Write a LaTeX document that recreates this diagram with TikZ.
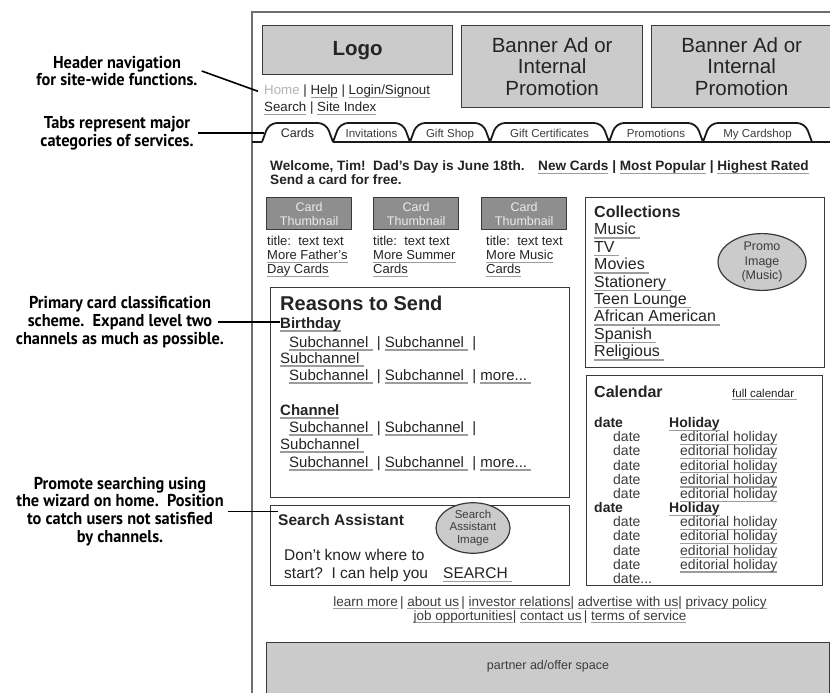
\documentclass[tikz,border=0pt]{standalone}
\usepackage{fontspec}
\setmainfont{Liberation Sans}
\newfontfamily\notefont[FakeStretch=0.95]{PT Sans}
\usetikzlibrary{shapes.geometric}

\definecolor{ink}{HTML}{242424}
\definecolor{soft}{HTML}{3C3C3C}
\definecolor{boxc}{HTML}{3A3A3A}
\definecolor{framec}{HTML}{6E6E6E}
\definecolor{fillg}{HTML}{CBCBCB}
\definecolor{thumbg}{HTML}{8E8E8E}
\definecolor{thumbt}{HTML}{EBEBEB}
\definecolor{ulc}{HTML}{9C9C9C}
\definecolor{homec}{HTML}{B4B4B4}

% gray link underline
\newsavebox\lkbox
\newcommand\lk[1]{\sbox\lkbox{#1}\rlap{\color{ulc}\rule[-0.24em]{\wd\lkbox}{0.085em}}\usebox\lkbox}
\newcommand\fsz[2]{\fontsize{#1}{#2}\selectfont}

\begin{document}
\begin{tikzpicture}[x=1pt,y=-1pt,
  txt/.style={inner sep=0pt, text=ink, anchor=base west},
  note/.style={font=\notefont\bfseries\fsz{17.2}{17.8}, align=center, inner sep=4pt, text=black},
  noteline/.style={draw=black, line width=1.6pt},
  panel/.style={draw=boxc, line width=1.3pt, anchor=north west, inner sep=0pt},
  greypanel/.style={panel, fill=fillg},
  thumb/.style={panel, fill=thumbg, minimum width=85pt, minimum height=32pt,
    text=thumbt, align=center, font=\fsz{12.5}{14}},
  tabedge/.style={draw=black!90, line width=1.8pt, rounded corners=8pt},
  tablabel/.style={inner sep=0pt, anchor=base},
  blob/.style={ellipse, draw=boxc, line width=1.2pt, fill=fillg, inner sep=0pt,
    align=center, text=soft},
]
\useasboundingbox (0,0) rectangle (830,693);
\fill[white] (0,0) rectangle (830,693);

% page frame
\draw[framec, line width=1.1pt] (252,700) -- (252,12) -- (840,12);

% ---- header ----
\node[greypanel, minimum width=190pt, minimum height=49pt,
  font=\bfseries\fsz{20.5}{22}, text=ink] (logo) at (262,25) {Logo};
\node[greypanel, minimum width=181pt, minimum height=82pt,
  font=\fsz{20.5}{21.5}, align=center, text=ink] (banner1) at (461,25)
  {Banner Ad or\\Internal\\Promotion};
\node[greypanel, minimum width=180pt, minimum height=82pt,
  font=\fsz{20.5}{21.5}, align=center, text=ink] (banner2) at (651,25)
  {Banner Ad or\\Internal\\Promotion};

\node[txt, font=\fsz{13.3}{14}] (nav1) at (264,94.5)
  {\textcolor{homec}{Home} | \lk{Help} | \lk{Login/Signout}};
\node[txt, font=\fsz{13.3}{14}] (nav2) at (264,111.5)
  {\lk{Search} | \lk{Site Index}};

% ---- tabs ----
\draw[tabedge] (262,142) -- (269,123) -- (326,123) -- (333,142);
\node[tablabel, font=\fsz{12.5}{13}, text=ink] (tab1) at (297.5,137.5) {Cards};
\foreach \a/\b/\t [count=\i from 2] in {333/410/Invitations, 410/490/Gift Shop,
    490/609/Gift Certificates, 609/703/Promotions, 703/812/My Cardshop}{
  \draw[tabedge] (\a,142) -- (\a+7,123) -- (\b-7,123) -- (\b,142);
  \node[tablabel, font=\fsz{11.5}{12}, text=soft] (tab\i) at ({(\a+\b)/2},137) {\t};
}
\draw[tabedge] (252,142) -- (262,142);
\draw[tabedge] (333,142) -- (840,142);

% ---- welcome line ----
\node[txt, font=\bfseries\fsz{13.6}{14}] (welcome) at (270,170)
  {Welcome, Tim!\ \ Dad's Day is June 18th.};
\node[txt, font=\bfseries\fsz{13.6}{14}] (welcome2) at (270,184)
  {Send a card for free.};
\node[txt, font=\bfseries\fsz{13.6}{14}] (quick) at (538,170.5)
  {\lk{New Cards} | \lk{Most Popular} | \lk{Highest Rated}};

% ---- thumbnails ----
\node[thumb] (thumb1) at (266,197) {Card\\Thumbnail};
\node[thumb] (thumb2) at (373,197) {Card\\Thumbnail};
\node[thumb] (thumb3) at (481,197) {Card\\Thumbnail};

\node[txt, font=\fsz{13}{13}] (cap1a) at (267,245.5) {title:\ \ text text};
\node[txt, font=\fsz{13}{13}] (cap1b) at (267,259.5) {\lk{More Father's}};
\node[txt, font=\fsz{13}{13}] (cap1c) at (267,273.5) {\lk{Day Cards}};
\node[txt, font=\fsz{13}{13}] (cap2a) at (373,245.5) {title:\ \ text text};
\node[txt, font=\fsz{13}{13}] (cap2b) at (373,259.5) {\lk{More Summer}};
\node[txt, font=\fsz{13}{13}] (cap2c) at (373,273.5) {\lk{Cards}};
\node[txt, font=\fsz{13}{13}] (cap3a) at (486,245.5) {title:\ \ text text};
\node[txt, font=\fsz{13}{13}] (cap3b) at (486,259.5) {\lk{More Music}};
\node[txt, font=\fsz{13}{13}] (cap3c) at (486,273.5) {\lk{Cards}};

% ---- reasons to send ----
\node[panel, minimum width=299pt, minimum height=210pt] (reasons) at (270,287) {};
\node[txt, font=\bfseries\fsz{20}{20}] (rtitle) at (280,310) {Reasons to Send};
\node[txt, font=\bfseries\fsz{15}{15}] (birthday) at (280,328) {\lk{Birthday}};
\node[txt, font=\fsz{15}{15}] (b1) at (289,347) {\lk{Subchannel\ } | \lk{Subchannel\ } |};
\node[txt, font=\fsz{15}{15}] (b2) at (280,363) {\lk{Subchannel\ }};
\node[txt, font=\fsz{15}{15}] (b3) at (289,380) {\lk{Subchannel\ } | \lk{Subchannel\ } | \lk{more...\ }};
\node[txt, font=\bfseries\fsz{15}{15}] (channel) at (280,415) {\lk{Channel}};
\node[txt, font=\fsz{15}{15}] (c1) at (289,432) {\lk{Subchannel\ } | \lk{Subchannel\ } |};
\node[txt, font=\fsz{15}{15}] (c2) at (280,449) {\lk{Subchannel\ }};
\node[txt, font=\fsz{15}{15}] (c3) at (289,467) {\lk{Subchannel\ } | \lk{Subchannel\ } | \lk{more...\ }};

% ---- search assistant ----
\node[panel, minimum width=299pt, minimum height=80pt] (search) at (270,505) {};
\node[txt, font=\bfseries\fsz{15.5}{16}] (stitle) at (278,525.5) {Search Assistant};
\node[blob, minimum width=74pt, minimum height=46pt, font=\fsz{11.5}{12.5}] (simg) at (473,528)
  {Search\\Assistant\\Image};
\node[txt, font=\fsz{15.5}{15.5}] (s1) at (284,560.5) {Don't know where to};
\node[txt, font=\fsz{15.5}{15.5}] (s2) at (284,578.5) {start?\ \ I can help you};
\node[txt, font=\fsz{15.5}{15.5}] (sgo) at (443,578.5) {\lk{SEARCH\ }};

% ---- collections ----
\node[panel, minimum width=239pt, minimum height=170pt] (collections) at (585,197) {};
\node[txt, font=\bfseries\fsz{16}{16}] (coltitle) at (594,217.5) {Collections};
\foreach \t [count=\i] in {Music, TV, Movies, Stationery, Teen Lounge,
    African American, Spanish, Religious}{
  \node[txt, font=\fsz{16}{16}] (col\i) at (594,{217.5+17.4*\i}) {\lk{\t\ }};
}
\node[blob, minimum width=88pt, minimum height=56pt, font=\fsz{12.5}{14.5}] (promo) at (762,262)
  {Promo\\Image\\(Music)};

% ---- calendar ----
\node[panel, minimum width=236pt, minimum height=210pt] (calendar) at (586,375) {};
\node[txt, font=\bfseries\fsz{16}{16}] (caltitle) at (594,397) {Calendar};
\node[txt, font=\fsz{11.5}{12}] (calfull) at (732,397) {\lk{full calendar\ }};
\foreach \i in {0,6}{
  \node[txt, font=\bfseries\fsz{14}{14}] (cald\i) at (594,{427.5+14.18*\i}) {date};
  \node[txt, font=\bfseries\fsz{14}{14}] (calh\i) at (669,{427.5+14.18*\i}) {\lk{Holiday}};
}
\foreach \i in {1,2,3,4,5,7,8,9,10}{
  \node[txt, font=\fsz{14}{14}, text=soft] (cald\i) at (613,{427.5+14.18*\i}) {date};
  \node[txt, font=\fsz{14}{14}, text=soft] (calh\i) at (680,{427.5+14.18*\i}) {\lk{editorial holiday}};
}
\node[txt, font=\fsz{14}{14}, text=soft] (cald11) at (613,{427.5+14.18*11}) {date...};

% ---- footer ----
\node[inner sep=0pt, anchor=base, font=\fsz{13.5}{14}, text=soft] (foot1) at (550,606)
  {\lk{learn more}\,|\ \lk{about us}\,|\ \lk{investor relations}|\ \lk{advertise with us}|\ \lk{privacy policy}};
\node[inner sep=0pt, anchor=base, font=\fsz{13.5}{14}, text=soft] (foot2) at (550,620)
  {\lk{job opportunities}|\ \lk{contact us}\,|\ \lk{terms of service}};

\node[greypanel, minimum width=563pt, minimum height=80pt] (partner) at (266,642) {};
\node[inner sep=0pt, font=\fsz{12.5}{13}, text=soft] (partnertxt) at (548,666) {partner ad/offer space};

% ---- annotations ----
\node[note] (n1) at (117,71) {Header navigation\\for site-wide functions.};
\node[note] (n2) at (117,133) {Tabs represent major\\categories of services.};
\node[note] (n3) at (120,322) {Primary card classification\\scheme.\ \ Expand level two\\channels as much as possible.};
\node[note] (n4) at (120,511.5) {Promote searching using\\the wizard on home.\ \ Position\\to catch users not satisfied\\by channels.};

\coordinate (navpoint) at ([xshift=-6pt]nav1.west);
\coordinate (tabpoint) at (264,133);
\coordinate (n3tip) at (218,322);
\draw[noteline] (n1.east) -- (navpoint);
\draw[noteline] (n2.east) -- (tabpoint);
\draw[noteline] (n3tip) -- (n3tip -| birthday.west);
\draw[noteline] (n4.east) -- (n4.east -| stitle.west);
\end{tikzpicture}
\end{document}
